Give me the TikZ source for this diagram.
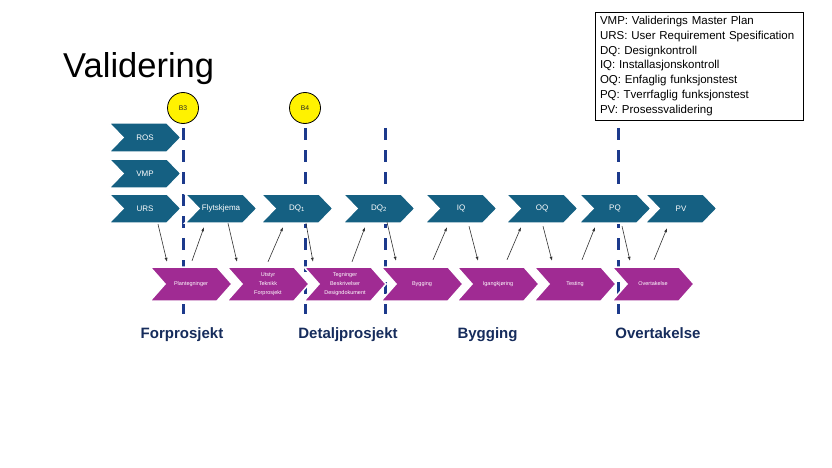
\documentclass[tikz,border=0pt]{standalone}
\usepackage{fontspec}
\setmainfont{Liberation Sans}
\usetikzlibrary{arrows.meta,calc}
\definecolor{chevteal}{HTML}{156082}
\definecolor{chevpurp}{HTML}{A02B93}
\definecolor{dashnavy}{RGB}{28,58,140}
\definecolor{labnavy}{RGB}{22,44,92}
\definecolor{arrowgray}{RGB}{50,50,50}
% #1 name, #2 left x, #3 top y, #4 width, #5 height, #6 point depth, #7 fill, #8 text style, #9 text
\newcommand\chevshape[9]{%
  \fill[#7,draw=white,line width=1.5pt,line join=miter]
    (#2,#3) -- ({#2+#4-#6},#3) -- ({#2+#4},{#3+#5/2}) -- ({#2+#4-#6},{#3+#5})
    -- (#2,{#3+#5}) -- ({#2+#6},{#3+#5/2}) -- cycle;
  \node[chevtext,#8,minimum width=#4,minimum height=#5] (#1) at ({#2+#4/2},{#3+#5/2}) {#9};
}
\tikzset{
  chevtext/.style={inner sep=0pt,text=white,align=center},
  topfont/.style={font=\fontsize{8}{9.6}\selectfont},
  botfont/.style={font=\fontsize{5.5}{9}\selectfont},
  gate/.style={dashnavy,line width=3pt,dash pattern=on 12pt off 10pt},
  conn/.style={draw=arrowgray,line width=0.6pt,-{Latex[length=4pt,width=3pt]}},
  milestone/.style={circle,draw=black,line width=0.8pt,fill=yellow,minimum size=31pt,inner sep=0pt,font=\fontsize{6.8}{7}\selectfont,text=black!85},
  phase/.style={font=\bfseries\fontsize{15}{18}\selectfont,text=labnavy,anchor=base,inner sep=0pt},
}
\begin{document}
\begin{tikzpicture}[x=1pt,y=-1pt]
\useasboundingbox[fill=white] (0,0) rectangle (832,468);

% title
\node[anchor=base west,inner sep=0pt,font=\fontsize{34.5}{40}\selectfont] (title) at (63,78) {Validering};

% legend
\node[draw=black,line width=0.8pt,minimum width=208pt,minimum height=108pt,text width=198pt,
      inner xsep=5pt,inner ysep=0pt,align=left,font=\fontsize{11.5}{14.75}\selectfont] (legend) at (699,66)
 {VMP: Validerings Master Plan\\URS: User Requirement Spesification\\DQ: Designkontroll\\IQ: Installasjonskontroll\\OQ: Enfaglig funksjonstest\\PQ: Tverrfaglig funksjonstest\\PV: Prosessvalidering};

% milestones
\node[milestone] (b3) at (183,108) {B3};
\node[milestone] (b4) at (305,108) {B4};

% gate lines (behind chevrons)
\coordinate (g3top) at (183,128); \coordinate (g3bot) at (183,314);
\coordinate (g4top) at (305,128); \coordinate (g4bot) at (305,314);
\coordinate (g5top) at (385,128); \coordinate (g5bot) at (385,314);
\coordinate (g6top) at (618,128); \coordinate (g6bot) at (618,314);
\draw[gate] (g3top) -- (g3bot);
\draw[gate] (g4top) -- (g4bot);
\draw[gate] (g5top) -- (g5bot);
\draw[gate] (g6top) -- (g6bot);

% top chevrons
\chevshape{ros}{109}{123}{72}{29}{14}{chevteal}{topfont}{ROS}
\chevshape{vmp}{109}{159}{72}{29}{14}{chevteal}{topfont}{VMP}
\chevshape{urs}{109}{194}{72}{29}{14}{chevteal}{topfont}{URS}
\chevshape{flyt}{185}{194}{72}{29}{14}{chevteal}{topfont}{Flytskjema}
\chevshape{dq1}{261}{194}{72}{29}{14}{chevteal}{topfont}{DQ\textsubscript{1}}
\chevshape{dq2}{343}{194}{72}{29}{14}{chevteal}{topfont}{DQ\textsubscript{2}}
\chevshape{iq}{425}{194}{72}{29}{14}{chevteal}{topfont}{IQ}
\chevshape{oq}{506}{194}{72}{29}{14}{chevteal}{topfont}{OQ}
\chevshape{pq}{579}{194}{72}{29}{14}{chevteal}{topfont}{PQ}
\chevshape{pv}{645}{194}{72}{29}{14}{chevteal}{topfont}{PV}

% bottom chevrons
\chevshape{plan}{150}{267}{82}{34}{15}{chevpurp}{botfont}{Plantegninger}
\chevshape{utstyr}{227}{267}{82}{34}{15}{chevpurp}{botfont}{Utstyr\\Teknikk\\Forprosjekt}
\chevshape{teg}{304}{267}{82}{34}{15}{chevpurp}{botfont}{Tegninger\\Beskrivelser\\Designdokument}
\chevshape{bygg}{381}{267}{82}{34}{15}{chevpurp}{botfont}{Bygging}
\chevshape{igang}{457}{267}{82}{34}{15}{chevpurp}{botfont}{Igangkjøring}
\chevshape{test}{534}{267}{82}{34}{15}{chevpurp}{botfont}{Testing}
\chevshape{over}{612}{267}{82}{34}{15}{chevpurp}{botfont}{Overtakelse}

% connectors
\draw[conn] ($(urs.south)+(13,1)$) -- ($(plan.north)+(-24,-5)$);
\draw[conn] ($(plan.north)+(1,-6)$) -- ($(flyt.south)+(-17,4)$);
\draw[conn] ($(flyt.south)+(7,0)$) -- ($(utstyr.north)+(-31,-5)$);
\draw[conn] ($(utstyr.north)+(0,-5)$) -- ($(dq1.south)+(-14,4)$);
\draw[conn] ($(dq1.south)+(9,0)$) -- ($(teg.north)+(-32,-5)$);
\draw[conn] ($(teg.north)+(7,-5)$) -- ($(dq2.south)+(-14,4)$);
\draw[conn] ($(dq2.south)+(8,-1)$) -- ($(bygg.north)+(-26,-6)$);
\draw[conn] ($(bygg.north)+(11,-7)$) -- ($(iq.south)+(-14,4)$);
\draw[conn] ($(iq.south)+(8,3)$) -- ($(igang.north)+(-20,-6)$);
\draw[conn] ($(igang.north)+(9,-7)$) -- ($(oq.south)+(-21,4)$);
\draw[conn] ($(oq.south)+(1,3)$) -- ($(test.north)+(-23,-6)$);
\draw[conn] ($(test.north)+(7,-7)$) -- ($(pq.south)+(-20,4)$);
\draw[conn] ($(pq.south)+(7,3)$) -- ($(over.north)+(-23,-6)$);
\draw[conn] ($(over.north)+(1,-7)$) -- ($(pv.south)+(-14,5)$);

% phase labels
\node[phase] (forp) at (182,338) {Forprosjekt};
\node[phase] (detp) at (348,338) {Detaljprosjekt};
\node[phase] (bygp) at (487.5,338) {Bygging};
\node[phase] (overp) at (658,338) {Overtakelse};
\end{tikzpicture}
\end{document}
